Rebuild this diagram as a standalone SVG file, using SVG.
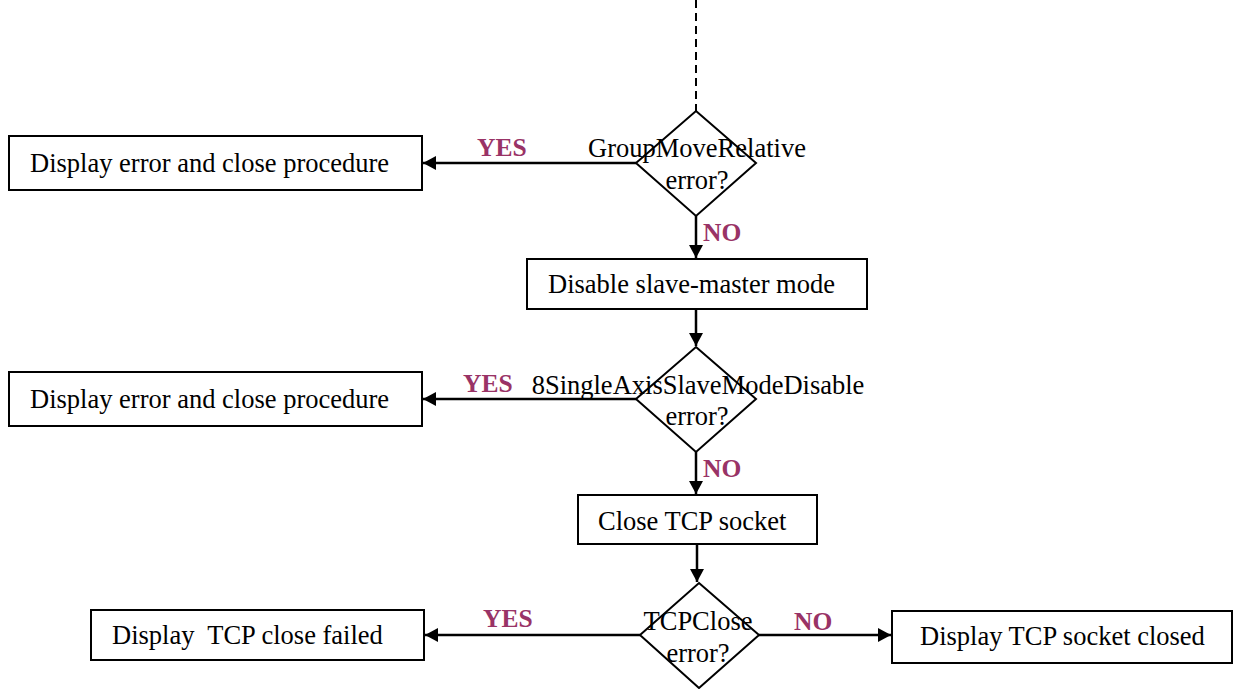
<svg xmlns="http://www.w3.org/2000/svg" width="1242" height="689" viewBox="0 0 1242 689">
<style>
.box{fill:#fff;stroke:#000;stroke-width:2}
.dia{fill:#fff;stroke:#000;stroke-width:2}
.t{font-family:"Liberation Serif","Times New Roman",serif;font-size:26.5px;fill:#000}
.tc{font-family:"Liberation Serif","Times New Roman",serif;font-size:26.5px;fill:#000;text-anchor:middle}
.lbl{font-family:"Liberation Serif","Times New Roman",serif;font-size:25.5px;font-weight:bold;fill:#993366}
.con{stroke:#000;stroke-width:2.5;fill:none}
</style>
<defs>
<marker id="ah" markerUnits="userSpaceOnUse" markerWidth="14" markerHeight="14" refX="13" refY="7" orient="auto">
<path d="M0,0 L13,7 L0,14 Z" fill="#000"/>
</marker>
</defs>
<rect width="1242" height="689" fill="#fff"/>
<g id="connectors">
<line x1="696" y1="0" x2="696" y2="111" stroke="#000" stroke-width="2" stroke-dasharray="8,5"/>
<line class="con" x1="696" y1="216" x2="696" y2="258" marker-end="url(#ah)"/>
<line class="con" x1="696" y1="309" x2="696" y2="346" marker-end="url(#ah)"/>
<line class="con" x1="696" y1="452" x2="696" y2="494" marker-end="url(#ah)"/>
<line class="con" x1="697" y1="544" x2="697" y2="582" marker-end="url(#ah)"/>
<line class="con" x1="636" y1="163" x2="423" y2="163" marker-end="url(#ah)"/>
<line class="con" x1="636" y1="399" x2="423" y2="399" marker-end="url(#ah)"/>
<line class="con" x1="640" y1="635" x2="425" y2="635" marker-end="url(#ah)"/>
<line class="con" x1="759" y1="635" x2="891" y2="635" marker-end="url(#ah)"/>
<text class="lbl" x="477" y="156">YES</text>
<text class="lbl" x="703" y="241">NO</text>
<text class="lbl" x="463" y="392">YES</text>
<text class="lbl" x="703" y="477">NO</text>
<text class="lbl" x="483" y="627">YES</text>
<text class="lbl" x="794" y="630">NO</text>
</g>
<g id="d1">
<polygon class="dia" points="696,111 756,163 696,216 636,163"/>
<text class="tc" x="697" y="157">GroupMoveRelative</text>
<text class="tc" x="697" y="189">error?</text>
</g>
<g id="err1">
<rect class="box" x="9" y="136" width="413" height="54"/>
<text class="t" x="30" y="172">Display error and close procedure</text>
</g>
<g id="disable">
<rect class="box" x="527" y="259" width="340" height="50"/>
<text class="t" x="548" y="293">Disable slave-master mode</text>
</g>
<g id="d2">
<polygon class="dia" points="696,347 756,399 696,452 636,399"/>
<text class="tc" x="698" y="394">8SingleAxisSlaveModeDisable</text>
<text class="tc" x="697" y="425">error?</text>
</g>
<g id="err2">
<rect class="box" x="9" y="372" width="413" height="54"/>
<text class="t" x="30" y="408">Display error and close procedure</text>
</g>
<g id="closetcp">
<rect class="box" x="578" y="495" width="239" height="49"/>
<text class="t" x="598" y="530">Close TCP socket</text>
</g>
<g id="d3">
<polygon class="dia" points="699,583 759,635 699,688 640,635"/>
<text class="tc" x="698" y="630">TCPClose</text>
<text class="tc" x="698" y="662">error?</text>
</g>
<g id="failed">
<rect class="box" x="91" y="610" width="333" height="50"/>
<text class="t" x="112" y="644" xml:space="preserve">Display  TCP close failed</text>
</g>
<g id="closed">
<rect class="box" x="892" y="611" width="340" height="52"/>
<text class="t" x="920" y="645">Display TCP socket closed</text>
</g>
</svg>
